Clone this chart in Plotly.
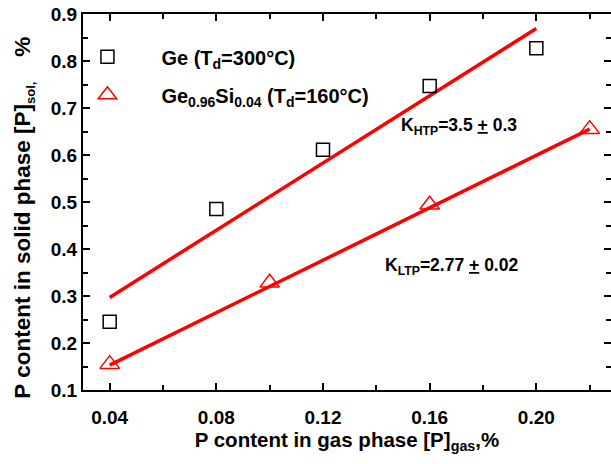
import plotly.graph_objects as go

# Data
ge_x = [0.04, 0.08, 0.12, 0.16, 0.20]
ge_y = [0.245, 0.485, 0.611, 0.747, 0.827]

gesi_x = [0.04, 0.10, 0.16, 0.22]
gesi_y = [0.155, 0.328, 0.494, 0.655]

fit_htp_x = [0.04, 0.20]
fit_htp_y = [0.297, 0.869]

fit_ltp_x = [0.04, 0.22]
fit_ltp_y = [0.153, 0.655]

x_ticks = [0.04, 0.08, 0.12, 0.16, 0.20]
x_tick_labels = ["0.04", "0.08", "0.12", "0.16", "0.20"]
y_ticks = [0.1, 0.2, 0.3, 0.4, 0.5, 0.6, 0.7, 0.8, 0.9]
y_tick_labels = ["0.1", "0.2", "0.3", "0.4", "0.5", "0.6", "0.7", "0.8", "0.9"]

FONT = "Liberation Sans, Arial, sans-serif"

fig = go.Figure()

fig.add_trace(go.Scatter(
    x=fit_htp_x, y=fit_htp_y, mode="lines",
    line=dict(color="#ff0000", width=3.5), showlegend=False, hoverinfo="skip"))
fig.add_trace(go.Scatter(
    x=fit_ltp_x, y=fit_ltp_y, mode="lines",
    line=dict(color="#ff0000", width=3.5), showlegend=False, hoverinfo="skip"))

fig.add_trace(go.Scatter(
    x=ge_x, y=ge_y, mode="markers", legendgroup="g1",
    name="<b>Ge (T<sub>d</sub>=300°C)</b>",
    marker=dict(symbol="square-open", size=13, color="black", line=dict(width=1.5, color="black"))))
fig.add_trace(go.Scatter(
    x=gesi_x, y=gesi_y, mode="markers", legendgroup="g2",
    name="<b>Ge<sub>0.96</sub>Si<sub>0.04</sub> (T<sub>d</sub>=160°C)</b>",
    marker=dict(symbol="triangle-up-open", size=17, color="#ff0000", line=dict(width=1.5, color="#ff0000"))))

fig.add_annotation(x=0.1486, y=0.660, xref="x", yref="y",
                   text="<b>K<sub>HTP</sub>=3.5 <u>+</u> 0.3</b>",
                   showarrow=False, xanchor="left", yanchor="middle",
                   font=dict(family=FONT, size=17.5, color="black"))
fig.add_annotation(x=0.1424, y=0.362, xref="x", yref="y",
                   text="<b>K<sub>LTP</sub>=2.77 <u>+</u> 0.02</b>",
                   showarrow=False, xanchor="left", yanchor="middle",
                   font=dict(family=FONT, size=17.5, color="black"))

axis_common = dict(
    showline=True, linecolor="black", linewidth=2, mirror="allticks",
    ticks="inside", ticklen=7, tickwidth=2, tickcolor="black",
    showgrid=False, zeroline=False, automargin=False,
    ticklabeloverflow="allow",
    tickfont=dict(family=FONT, size=19, color="black"),
)

fig.update_xaxes(
    range=[0.03, 0.228], tickvals=x_ticks,
    ticktext=["<b>%s</b>" % t for t in x_tick_labels],
    ticklabelstandoff=9,
    minor=dict(dtick=0.02, tick0=0.0, ticks="inside", ticklen=5, tickwidth=2, tickcolor="black"),
    title=dict(text="<b>P content in gas phase [P]<sub>gas</sub>,%</b>",
               font=dict(family=FONT, size=20.5, color="black"), standoff=6),
    **axis_common)
fig.update_yaxes(
    range=[0.1, 0.9], tickvals=y_ticks,
    ticktext=["<b>%s</b>" % t for t in y_tick_labels],
    minor=dict(dtick=0.05, tick0=0.0, ticks="inside", ticklen=5, tickwidth=2, tickcolor="black"),
    title=dict(text="<b>P content in solid phase [P]<sub><span style=\"font-size:13px\">sol,</span></sub>&nbsp;&nbsp;&nbsp;&nbsp;%&nbsp;&nbsp;&nbsp;&nbsp;&nbsp;</b>",
               font=dict(family=FONT, size=22.5, color="black"), standoff=14),
    **axis_common)

fig.update_layout(
    width=611, height=464,
    margin=dict(l=83, r=0, t=14, b=74),
    paper_bgcolor="white", plot_bgcolor="white",
    font=dict(family=FONT, color="black"),
    legend=dict(x=-0.056, y=0.938, xanchor="left", yanchor="top",
                bgcolor="rgba(0,0,0,0)", borderwidth=0,
                traceorder="grouped", tracegroupgap=9,
                font=dict(family=FONT, size=20, color="black"),
                itemwidth=98),
)

# Remove the default page margin so the figure sits at the window's corner.
fig.write_html("out.html", config={"displayModeBar": False},
               post_script="document.body.style.margin='0';")
